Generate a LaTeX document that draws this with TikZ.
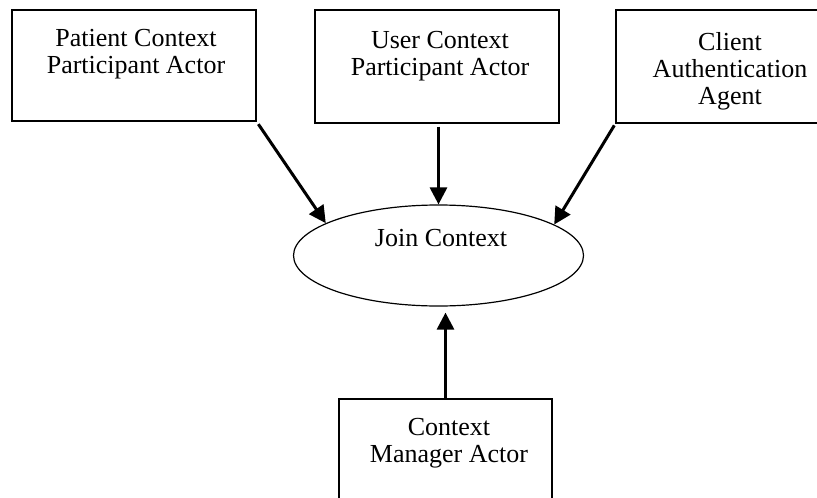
\documentclass[tikz,border=0pt]{standalone}
\usepackage{fontspec}
\setmainfont{Liberation Serif}
\usetikzlibrary{arrows.meta,shapes.geometric}
\begin{document}
\begin{tikzpicture}[x=1pt,y=-1pt,
  box/.style={draw, line width=1.3pt, rectangle, inner sep=0pt},
  txt/.style={font=\fontsize{26}{27}\selectfont, align=center, inner sep=0pt, anchor=north},
  arr/.style={line width=3pt, -{Triangle[length=17pt,width=17pt]}}
]
\useasboundingbox (0,0) rectangle (817,498);
\clip (0,0) rectangle (817,498);
% boxes
\node[box, minimum width=244pt, minimum height=111pt] (b1) at (134,65.5) {};
\node[txt] (t1) at (136,29.5) {Patient Context\\Participant Actor};
\node[box, minimum width=244pt, minimum height=113pt] (b2) at (437,66.5) {};
\node[txt] (t2) at (440,31) {User Context\\Participant Actor};
\node[box, minimum width=234pt, minimum height=113pt] (b3) at (733,66.5) {};
\node[txt] (t3) at (730,32) {Client\\Authentication\\Agent};
\node[box, minimum width=213pt, minimum height=131pt] (b4) at (445.5,464.5) {};
\node[txt] (t4) at (449,418) {Context\\Manager Actor};
% ellipse
\node[draw, ellipse, line width=1.2pt, minimum width=290pt, minimum height=101pt, inner sep=0pt] (je) at (438.5,255.5) {};
\node[txt] (tj) at (441,229) {Join Context};
% arrows
\draw[arr, shorten <=3pt] (b1.south east) -- (je.164.6);
\draw[arr, shorten <=3pt] (b2.south -| je.north) -- (je.north);
\draw[arr, shorten <=2pt] (b3.south west) -- (je.15.6);
\draw[arr, shorten >=6pt] (b4.north) -- (b4.north |- je.south);
\end{tikzpicture}
\end{document}
